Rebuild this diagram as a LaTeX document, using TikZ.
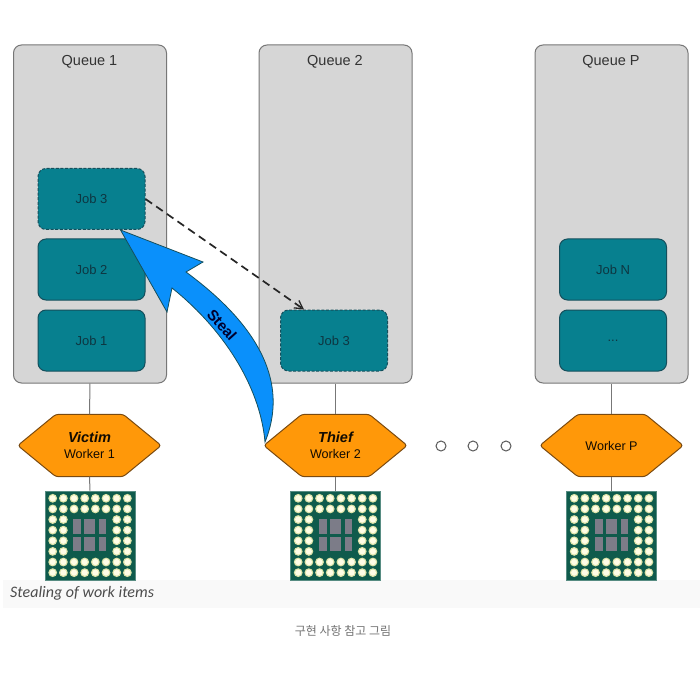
\documentclass[tikz,border=0pt]{standalone}
\usepackage{fontspec}
\setmainfont{Liberation Sans}
\newfontfamily\captionfont{Carlito}
\newfontfamily\krfont{Noto Sans CJK KR}
\usetikzlibrary{arrows.meta,calc,backgrounds}
\definecolor{queuefill}{HTML}{D6D6D6}
\definecolor{queueline}{HTML}{777777}
\definecolor{jobfill}{HTML}{07808F}
\definecolor{jobline}{HTML}{154F5C}
\definecolor{jobtext}{HTML}{0E3641}
\definecolor{workerfill}{HTML}{FF9809}
\definecolor{workerline}{HTML}{7A4A10}
\definecolor{stealfill}{HTML}{0A90FB}
\definecolor{chipgreen}{HTML}{0F5B4C}
\definecolor{ballouter}{HTML}{DDE3A8}
\definecolor{ballinner}{HTML}{FFFDE6}
\definecolor{diecolor}{HTML}{7C7C88}
\tikzset{
  x=1pt,y=-1pt,
  queuebox/.style={draw=queueline,line width=1pt,fill=queuefill,rounded corners=8pt,
    minimum width=153pt,minimum height=338pt,inner sep=0pt},
  queuetitle/.style={text=black!80,font=\fontsize{14.5}{16}\selectfont,inner sep=0pt},
  jobbox/.style={draw=jobline,line width=1pt,fill=jobfill,rounded corners=8pt,
    minimum width=107pt,minimum height=61pt,inner sep=0pt,text=jobtext,
    font=\fontsize{13}{15}\selectfont},
  movedjob/.style={jobbox,dash pattern=on 3pt off 1.6pt},
  workerbox/.style={minimum width=143pt,minimum height=62pt,inner sep=0pt,align=center,
    text=black!85!workerline,font=\fontsize{12.6}{15}\selectfont},
  workeroutline/.style={draw=workerline,line width=1pt,fill=workerfill,rounded corners=3pt},
  link/.style={draw=queueline,line width=1pt},
  chipbody/.style={draw=chipgreen!70!white,line width=.6pt,fill=chipgreen,
    minimum width=90pt,minimum height=89pt,inner sep=0pt},
  gapdot/.style={circle,draw=black!65,line width=1pt,fill=white,minimum size=10pt,inner sep=0pt},
}
% Hexagonal outline behind a worker node
\newcommand{\workeroutlineof}[1]{%
  \begin{pgfonlayer}{background}
    \draw[workeroutline] (#1.west) -- ([xshift=38pt]#1.north west) -- ([xshift=-38pt]#1.north east)
      -- (#1.east) -- ([xshift=-38pt]#1.south east) -- ([xshift=38pt]#1.south west) -- cycle;
  \end{pgfonlayer}}
% A chip package: green body, ring of solder balls, six grey dies
\newcommand{\chipat}[3]{%
  \node[chipbody] (#1) at (#2,#3) {};
  \foreach \ix in {0,...,7}{\foreach \iy in {0,...,7}{%
    \pgfmathtruncatemacro{\inner}{(\ix>1)&&(\ix<6)&&(\iy>1)&&(\iy<6)}%
    \ifnum\inner=0
      \fill[ballouter] ($(#1)+(-37.3+10.67*\ix,-37.2+10.62*\iy)$) circle (4.4pt);
      \fill[ballinner] ($(#1)+(-37.3+10.67*\ix,-37.2+10.62*\iy)$) circle (3.1pt);
    \fi}}
  \foreach \xa/\xb in {-16.7/-9,-5.7/5,9/16}{\foreach \ya/\yb in {-16.2/-1.2,1.2/15.2}{%
    \fill[diecolor] ($(#1)+(\xa,\ya)$) rectangle ($(#1)+(\xb,\yb)$);}}
}
\begin{document}
\begin{tikzpicture}
\useasboundingbox (0,0) rectangle (700,700);
\begin{pgfonlayer}{background}
\fill[white] (0,0) rectangle (700,700);
\fill[black!2.5] (3,580) rectangle (700,608);
\end{pgfonlayer}

% Queues
\node[queuebox] (q1) at (90,214) {};
\node[queuebox] (q2) at (335.5,214) {};
\node[queuebox] (qp) at (611.5,214) {};
\node[queuetitle] (q1t) at (89.5,61.5) {Queue 1};
\node[queuetitle] (q2t) at (335,61.5) {Queue 2};
\node[queuetitle] (qpt) at (611,61.5) {Queue P};

% Workers
\node[workerbox] (w1) at (89.5,445.5) {{\fontsize{14.5}{15}\selectfont\bfseries\itshape Victim}\\[1.5pt]Worker 1};
\node[workerbox] (w2) at (335.5,445.5) {{\fontsize{14.5}{15}\selectfont\bfseries\itshape Thief}\\[1.5pt]Worker 2};
\node[workerbox] (wp) at (611.5,445.5) {Worker P};
\workeroutlineof{w1}
\workeroutlineof{w2}
\workeroutlineof{wp}

% Chips
\chipat{c1}{90}{535.5}
\chipat{c2}{335.5}{535.5}
\chipat{cp}{611.5}{535.5}

% Queue to worker to chip links
\draw[link] (q1.south) -- (w1.north);
\draw[link] (w1.south) -- (c1.north);
\draw[link] (q2.south) -- (w2.north);
\draw[link] (w2.south) -- (c2.north);
\draw[link] (qp.south) -- (wp.north);
\draw[link] (wp.south) -- (cp.north);

% Jobs
\node[movedjob] (j3) at (91.5,199) {Job 3};
\node[jobbox] (j2) at (91.5,269.5) {Job 2};
\node[jobbox] (j1) at (91.5,340.5) {Job 1};
\node[movedjob] (j3b) at (334,340.5) {Job 3};
\node[jobbox] (jn) at (613,269.5) {Job N};
\node[jobbox] (jd) at (613,340.5) {...};

% Gap between worker 2 and worker P
\node[gapdot] (d1) at (441,446) {};
\node[gapdot] (d2) at (473,446) {};
\node[gapdot] (d3) at (506,446) {};

% Migration of the stolen job
\draw[line width=1.7pt,black!85,dash pattern=on 8pt off 5pt,-{Straight Barb[length=8pt,width=9pt,line width=1.3pt]}]
  (j3.east) -- ([xshift=-30pt]j3b.north);

% Steal arrow
\coordinate (tip) at ($(j3.south east)+(-25,0)$);
\draw[draw=jobline,line width=.8pt,fill=stealfill,line join=miter]
  (tip) -- (203,262) -- (186,272)
  .. controls (232,306) and (296,366) .. (265,442)
  .. controls (260,385) and (222,328) .. (172,288)
  -- (167,312) -- cycle;
\node[rotate=-48,inner sep=0pt,text=black!70!blue!60!black,font=\fontsize{15}{16}\selectfont\bfseries] (stealt) at (222,325) {Steal};

% Captions
\node[anchor=west,inner sep=0pt,text=black!70,font=\captionfont\itshape\fontsize{16}{18}\selectfont] (cap) at (10,593) {Stealing of work items};
\node[inner sep=0pt,text=black!55,font=\krfont\fontsize{12}{13}\selectfont] (capkr) at (343,630.5) {구현 사항 참고 그림};
\end{tikzpicture}
\end{document}
